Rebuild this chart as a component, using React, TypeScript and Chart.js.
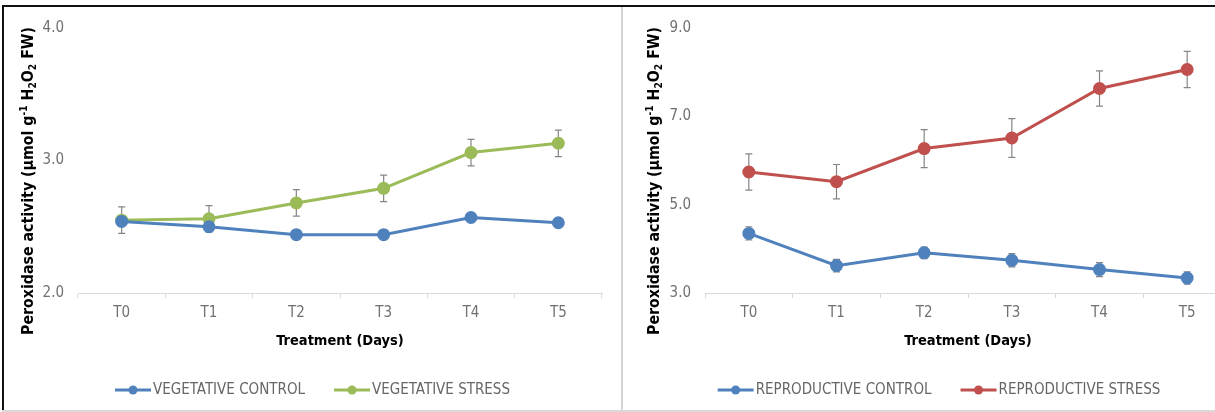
import React, { useEffect, useRef } from "react";
import { Chart, registerables } from "chart.js";

Chart.register(...registerables);

// ---------- data ----------
const categories = ["T0", "T1", "T2", "T3", "T4", "T5"];

const vegetativeControl = [2.54, 2.5, 2.44, 2.44, 2.57, 2.53];
const vegetativeControlErr = [0, 0, 0, 0, 0, 0];
const vegetativeStress = [2.55, 2.56, 2.68, 2.79, 3.06, 3.13];
const vegetativeStressErr = [0.1, 0.1, 0.1, 0.1, 0.1, 0.1];

const reproductiveControl = [4.35, 3.62, 3.91, 3.74, 3.53, 3.34];
const reproductiveControlErr = [0.15, 0.14, 0.13, 0.15, 0.16, 0.14];
const reproductiveStress = [5.74, 5.52, 6.27, 6.51, 7.63, 8.06];
const reproductiveStressErr = [0.41, 0.39, 0.43, 0.44, 0.4, 0.41];

const vegetativeTicks = [2, 3, 4];
const reproductiveTicks = [3, 5, 7, 9];

const seriesLabels = {
  vegControl: "VEGETATIVE CONTROL",
  vegStress: "VEGETATIVE STRESS",
  repControl: "REPRODUCTIVE CONTROL",
  repStress: "REPRODUCTIVE STRESS",
};

const xTitle = "Treatment (Days)";
const yTitleParts = [
  { text: "Peroxidase activity (\u00b5mol g", kind: "normal" },
  { text: "-1", kind: "sup" },
  { text: " H", kind: "normal" },
  { text: "2", kind: "sub" },
  { text: "O", kind: "normal" },
  { text: "2", kind: "sub" },
  { text: " FW)", kind: "normal" },
];

// ---------- styles ----------
const FONT =
  '"Liberation Sans Narrow", "Arial Narrow", "DejaVu Sans Condensed", "Open Sans", sans-serif';
const BLUE = "#4F81BD";
const GREEN = "#9BBB59";
const RED = "#C0504D";

// ---------- plugins ----------
const errorBarPlugin = {
  id: "errorBars",
  beforeDatasetsDraw(chart: any) {
    const { ctx } = chart;
    const yScale = chart.scales.y;
    chart.data.datasets.forEach((ds: any, i: number) => {
      const errs: number[] | undefined = ds.errors;
      if (!errs) return;
      const meta = chart.getDatasetMeta(i);
      meta.data.forEach((pt: any, j: number) => {
        const v = ds.data[j];
        const e = errs[j];
        if (!e) return;
        const x = pt.x;
        const yt = yScale.getPixelForValue(v + e);
        const yb = yScale.getPixelForValue(v - e);
        ctx.save();
        ctx.strokeStyle = "#858585";
        ctx.lineWidth = 1.2;
        ctx.beginPath();
        ctx.moveTo(x, yt);
        ctx.lineTo(x, yb);
        ctx.moveTo(x - 3.5, yt);
        ctx.lineTo(x + 3.5, yt);
        ctx.moveTo(x - 3.5, yb);
        ctx.lineTo(x + 3.5, yb);
        ctx.stroke();
        ctx.restore();
      });
    });
  },
};

const richYTitlePlugin = {
  id: "richYTitle",
  afterDraw(chart: any, _args: any, opts: any) {
    const { ctx } = chart;
    const { x, y, length, color } = opts;
    const sizeFor = (kind: string, base: number) => (kind === "normal" ? base : base * 0.65);
    const measure = (base: number) =>
      yTitleParts.reduce((w, p) => {
        ctx.font = `bold ${sizeFor(p.kind, base)}px ${FONT}`;
        return w + ctx.measureText(p.text).width;
      }, 0);
    let base = 15;
    base = (base * length) / measure(base);
    const total = measure(base);
    ctx.save();
    ctx.translate(x, y);
    ctx.rotate(-Math.PI / 2);
    ctx.fillStyle = color;
    ctx.textBaseline = "middle";
    ctx.textAlign = "left";
    let cx = -total / 2;
    for (const p of yTitleParts) {
      ctx.font = `bold ${sizeFor(p.kind, base)}px ${FONT}`;
      const dy = p.kind === "sup" ? -base * 0.3 : p.kind === "sub" ? base * 0.25 : 0;
      ctx.fillText(p.text, cx, dy);
      cx += ctx.measureText(p.text).width;
    }
    ctx.restore();
  },
};

const lineLegendPlugin = {
  id: "lineLegend",
  afterDraw(chart: any, _args: any, opts: any) {
    const { ctx } = chart;
    const { y, size, color, markerWidth, gap, itemGap } = opts;
    ctx.save();
    ctx.font = `${size}px ${FONT}`;
    const items = chart.data.datasets.map((ds: any) => ({
      label: ds.label,
      color: ds.borderColor,
      w: ctx.measureText(ds.label).width,
    }));
    const total =
      items.reduce((s: number, it: any) => s + markerWidth + gap + it.w, 0) +
      itemGap * (items.length - 1);
    let x = chart.width / 2 - total / 2;
    for (const it of items) {
      ctx.strokeStyle = it.color;
      ctx.lineWidth = 3;
      ctx.beginPath();
      ctx.moveTo(x, y);
      ctx.lineTo(x + markerWidth, y);
      ctx.stroke();
      ctx.fillStyle = it.color;
      ctx.beginPath();
      ctx.arc(x + markerWidth / 2, y, 4.5, 0, Math.PI * 2);
      ctx.fill();
      ctx.fillStyle = color;
      ctx.textBaseline = "middle";
      ctx.textAlign = "left";
      ctx.fillText(it.label, x + markerWidth + gap, y);
      x += markerWidth + gap + it.w + itemGap;
    }
    ctx.restore();
  },
};

// ---------- config ----------
function makeConfig(p: {
  datasets: any[];
  ticks: number[];
  min: number;
  max: number;
  yWidth: number;
  padRight: number;
  titleX: number;
}) {
  return {
    type: "line" as const,
    data: {
      labels: categories,
      datasets: p.datasets.map((d) => ({
        label: d.label,
        data: d.data,
        errors: d.errors,
        borderColor: d.color,
        backgroundColor: d.color,
        pointBackgroundColor: d.color,
        pointBorderColor: d.color,
        borderWidth: 3,
        pointRadius: 5,
        pointHoverRadius: 5,
        tension: 0,
        fill: false,
      })),
    },
    options: {
      responsive: false,
      animation: false,
      events: [],
      layout: { padding: { left: 0, top: 28, right: p.padRight, bottom: 0 } },
      plugins: {
        legend: { display: false },
        tooltip: { enabled: false },
        richYTitle: { x: p.titleX, y: 181, length: 308, color: "#000" },
        lineLegend: {
          y: 390,
          size: 15,
          color: "#666",
          markerWidth: 36,
          gap: 2,
          itemGap: 29,
        },
      },
      scales: {
        x: {
          type: "category",
          offset: true,
          grid: {
            offset: true,
            drawOnChartArea: false,
            drawTicks: true,
            tickLength: 5,
            color: "#d9d9d9",
          },
          border: { display: true, color: "#d9d9d9", width: 1 },
          ticks: {
            color: "#707070",
            font: { family: FONT, size: 15 },
            padding: 6,
            maxRotation: 0,
            autoSkip: false,
          },
          title: {
            display: true,
            text: xTitle,
            color: "#000",
            font: { family: FONT, size: 14.5, weight: "bold" },
            padding: { top: 0, bottom: 62 },
          },
          afterFit: (scale: any) => {
            scale.height = 412 - 293;
          },
        },
        y: {
          type: "linear",
          min: p.min,
          max: p.max,
          grid: { display: false, drawTicks: false },
          border: { display: false },
          ticks: {
            color: "#707070",
            font: { family: FONT, size: 15 },
            padding: 14,
            callback: (v: any) => Number(v).toFixed(1),
          },
          afterBuildTicks: (scale: any) => {
            scale.ticks = p.ticks.map((v) => ({ value: v }));
          },
          afterFit: (scale: any) => {
            scale.width = p.yWidth;
          },
        },
      },
    },
    plugins: [errorBarPlugin, richYTitlePlugin, lineLegendPlugin],
  };
}

export default function App() {
  const leftRef = useRef<HTMLCanvasElement | null>(null);
  const rightRef = useRef<HTMLCanvasElement | null>(null);

  useEffect(() => {
    const left = new Chart(
      leftRef.current as HTMLCanvasElement,
      makeConfig({
        datasets: [
          { label: seriesLabels.vegControl, data: vegetativeControl, errors: vegetativeControlErr, color: BLUE },
          { label: seriesLabels.vegStress, data: vegetativeStress, errors: vegetativeStressErr, color: GREEN },
        ],
        ticks: vegetativeTicks,
        min: 2,
        max: 4,
        yWidth: 75,
        padRight: 20,
        titleX: 26,
      }) as any
    );
    const right = new Chart(
      rightRef.current as HTMLCanvasElement,
      makeConfig({
        datasets: [
          { label: seriesLabels.repControl, data: reproductiveControl, errors: reproductiveControlErr, color: BLUE },
          { label: seriesLabels.repStress, data: reproductiveStress, errors: reproductiveStressErr, color: RED },
        ],
        ticks: reproductiveTicks,
        min: 3,
        max: 9,
        yWidth: 83,
        padRight: 25,
        titleX: 33,
      }) as any
    );
    return () => {
      left.destroy();
      right.destroy();
    };
  }, []);

  return (
    <div
      style={{
        position: "absolute",
        left: 0,
        top: 0,
        width: 1215,
        height: 412,
        overflow: "hidden",
        background: "#fff",
      }}
    >
      <canvas
        ref={leftRef}
        width={619}
        height={412}
        style={{ position: "absolute", left: 3, top: 0, width: 619, height: 412 }}
      />
      <canvas
        ref={rightRef}
        width={634}
        height={412}
        style={{ position: "absolute", left: 622, top: 0, width: 634, height: 412 }}
      />
      <div style={{ position: "absolute", left: 2, top: 5, width: 1213, height: 2, background: "#111" }} />
      <div style={{ position: "absolute", left: 2, top: 5, width: 2, height: 407, background: "#111" }} />
      <div style={{ position: "absolute", left: 621, top: 7, width: 2, height: 405, background: "#d4d4d4" }} />
      <div style={{ position: "absolute", left: 2, top: 410, width: 1213, height: 2, background: "#d9d9d9" }} />
    </div>
  );
}
